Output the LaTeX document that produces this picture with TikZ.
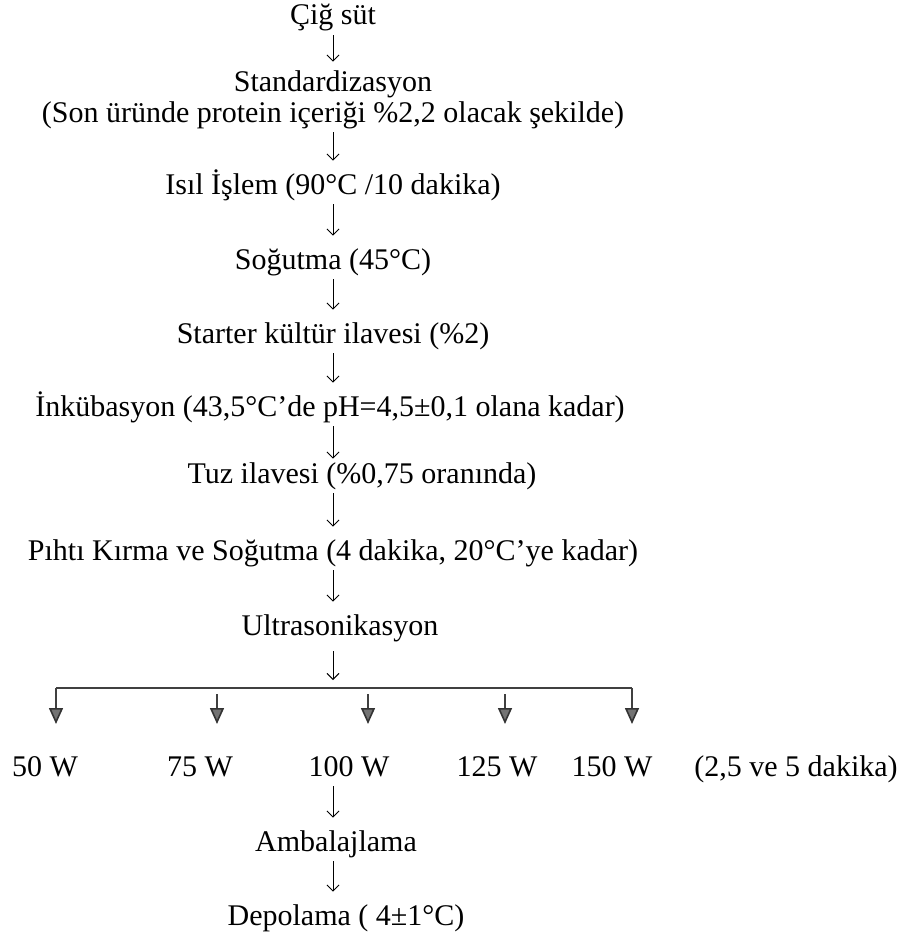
\documentclass[tikz,border=0pt]{standalone}
\usepackage{fontspec}
\setmainfont{Liberation Serif}
\usetikzlibrary{arrows.meta, positioning, calc}
\tikzstyle{stage} = [inner sep=0pt, text height=10pt, text depth=3pt, anchor=base]
\tikzstyle{arrow} = [line width=0.45pt, -{Straight Barb[length=3pt,width=6pt]}, shorten <=2pt, shorten >=6.5pt]
\tikzstyle{rail} = [line width=1.1pt, draw=black!75]
\tikzstyle{branch} = [line width=0.8pt, draw=black!75, -{Triangle[length=8pt,width=7pt,fill=black!55,color=black!80]}]

\begin{document}
\begin{tikzpicture}[x=0.5pt, y=-0.5pt, font=\fontsize{15}{18}\selectfont]
    \useasboundingbox (0,0) rectangle (915,937);
    \coordinate (axis) at (333,0);

    % main column
    \node (raw) [stage] at (333,25) {Çiğ süt};
    \node (standard) [stage] at (333,91) {Standardizasyon};
    \node (protein) [stage] at (333,122) {(Son üründe protein içeriği \%2,2 olacak şekilde)};
    \node (heat) [stage] at (333,194) {Isıl İşlem (90°C /10 dakika)};
    \node (cool) [stage] at (333,269) {Soğutma (45°C)};
    \node (starter) [stage] at (333,343) {Starter kültür ilavesi (\%2)};
    \node (incub) [stage] at (330,416) {İnkübasyon (43,5°C’de pH=4,5±0,1 olana kadar)};
    \node (salt) [stage] at (362,483) {Tuz ilavesi (\%0,75 oranında)};
    \node (curd) [stage] at (333,560) {Pıhtı Kırma ve Soğutma (4 dakika, 20°C’ye kadar)};
    \node (ultra) [stage] at (340,635) {Ultrasonikasyon};

    % power levels
    \node (w50) [stage] at (45,776) {50 W};
    \node (w75) [stage] at (200,776) {75 W};
    \node (w100) [stage] at (349,776) {100 W};
    \node (w125) [stage] at (497,776) {125 W};
    \node (w150) [stage] at (612,776) {150 W};
    \node (duration) [stage] at (796,776) {(2,5 ve 5 dakika)};

    \node (pack) [stage] at (336,851) {Ambalajlama};
    \node (store) [stage] at (346,925) {Depolama ( 4±1°C)};

    \draw [arrow, shorten >=4.5pt] (raw.south -| axis) -- (standard.north -| axis);
    \draw [arrow] (protein.south -| axis) -- (heat.north -| axis);
    \draw [arrow] (heat.south -| axis) -- (cool.north -| axis);
    \draw [arrow] (cool.south -| axis) -- (starter.north -| axis);
    \draw [arrow] (starter.south -| axis) -- (incub.north -| axis);
    \draw [arrow, shorten >=2pt] (incub.south -| axis) -- (salt.north -| axis);
    \draw [arrow] (salt.south -| axis) -- (curd.north -| axis);
    \draw [arrow] (curd.south -| axis) -- (ultra.north -| axis);

    % split into the five power levels
    \coordinate (split) at (333,688);
    \foreach \x/\n in {56/50, 217/75, 368/100, 505/125, 632/150}
        \coordinate (tip\n) at (\x,724);
    \draw [arrow, shorten <=5pt, shorten >=4pt] (ultra.south -| axis) -- (split);
    \draw [rail] (tip50 |- split) -- (tip150 |- split);
    \draw [branch] (tip50 |- split) -- (tip50);
    \draw [branch] (tip150 |- split) -- (tip150);
    \foreach \n in {75,100,125}
        \draw [branch] ([yshift=-3pt]tip\n |- split) -- (tip\n);

    \draw [arrow] (w100.south -| axis) -- (pack.north -| axis);
    \draw [arrow] (pack.south -| axis) -- (store.north -| axis);
\end{tikzpicture}
\end{document}
